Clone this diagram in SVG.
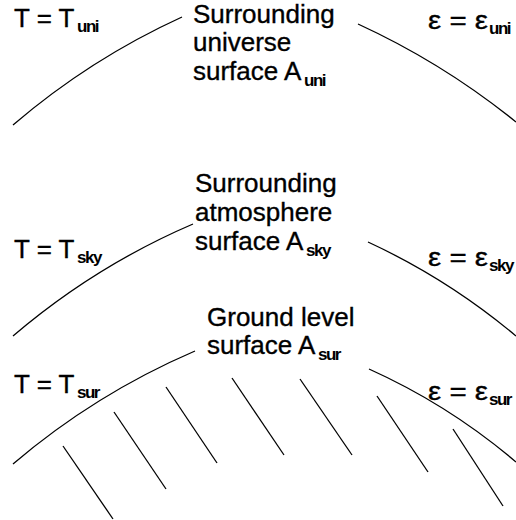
<svg xmlns="http://www.w3.org/2000/svg" width="516" height="520" viewBox="0 0 516 520">
<style>
.t{font-family:"Liberation Sans",Arial,sans-serif;font-size:26px;fill:#000;stroke:#000;stroke-width:0.35}
.s{font-family:"Liberation Sans",Arial,sans-serif;font-size:17px;font-weight:bold;letter-spacing:-1.5px;fill:#000}
.ln{fill:none;stroke:#000;stroke-width:1.3}
</style>
<rect width="516" height="520" fill="#fff"/>
<g id="connectors">
<path class="ln" d="M13,125 Q90,59 182,17"/>
<path class="ln" d="M358,24 Q443,63 516,122"/>
<path class="ln" d="M13,336 Q95,266 193,224"/>
<path class="ln" d="M368,242 Q448,279 516,336"/>
<path class="ln" d="M13,464 Q95,394 195,351"/>
<path class="ln" d="M369,369 Q449,405 516,462"/>
</g>
<g id="ground-hatch">
<line class="ln" x1="63" y1="446" x2="113" y2="519"/>
<line class="ln" x1="114" y1="412" x2="166" y2="489"/>
<line class="ln" x1="166" y1="387" x2="217" y2="463"/>
<line class="ln" x1="232" y1="378" x2="284" y2="455"/>
<line class="ln" x1="300" y1="379" x2="352" y2="455"/>
<line class="ln" x1="377" y1="396" x2="428" y2="472"/>
<line class="ln" x1="453" y1="429" x2="503" y2="506"/>
</g>
<g id="universe">
<text class="t" x="193" y="23">Surrounding</text>
<text class="t" x="193" y="51">universe</text>
<text class="t" x="193" y="80">surface A</text>
<text class="s" x="304" y="86">uni</text>
</g>
<g id="atmosphere">
<text class="t" x="195" y="192">Surrounding</text>
<text class="t" x="195" y="221">atmosphere</text>
<text class="t" x="195" y="250">surface A</text>
<text class="s" x="306" y="256">sky</text>
</g>
<g id="ground">
<text class="t" x="207" y="326">Ground level</text>
<text class="t" x="207" y="354">surface A</text>
<text class="s" x="318" y="360">sur</text>
</g>
<g id="T-uni">
<text class="t" x="14" y="27">T = T</text>
<text class="s" x="77" y="32">uni</text>
</g>
<g id="T-sky">
<text class="t" x="14" y="258">T = T</text>
<text class="s" x="77" y="263">sky</text>
</g>
<g id="T-sur">
<text class="t" x="14" y="393">T = T</text>
<text class="s" x="77" y="398">sur</text>
</g>
<g id="eps-uni">
<text class="t" x="428" y="29" textLength="60" lengthAdjust="spacingAndGlyphs">ε = ε</text>
<text class="s" x="489" y="34">uni</text>
</g>
<g id="eps-sky">
<text class="t" x="428" y="266" textLength="60" lengthAdjust="spacingAndGlyphs">ε = ε</text>
<text class="s" x="489" y="271">sky</text>
</g>
<g id="eps-sur">
<text class="t" x="428" y="400" textLength="60" lengthAdjust="spacingAndGlyphs">ε = ε</text>
<text class="s" x="489" y="405">sur</text>
</g>
</svg>
